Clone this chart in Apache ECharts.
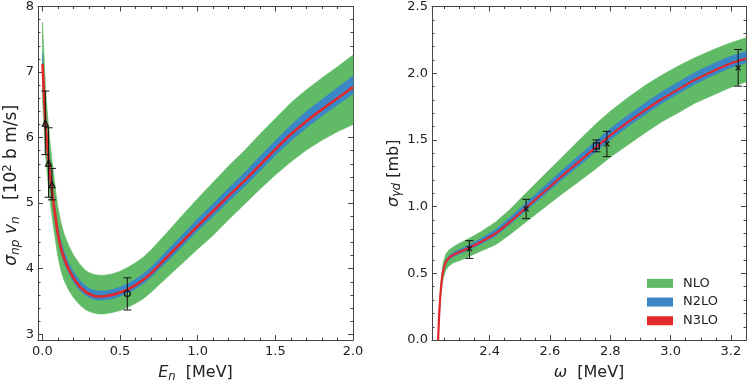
<!DOCTYPE html>
<html lang="en">
<head>
  <meta charset="UTF-8">
  <title>np capture / deuteron photodisintegration</title>
  <script src="https://cdn.jsdelivr.net/npm/echarts@6/dist/echarts.min.js"></script>
  <style>body{margin:0;background:#fff;}</style>
</head>
<body>
<div id="main" style="width:754px;height:388px;"></div>
<script type="text/javascript">
// ---- left panel: sigma_np * v_n vs E_n ----
var enLeft = [0.001,0.005,0.01,0.015,0.02,0.03,0.04,0.05,0.06,0.07,0.08,0.09,0.10,0.12,0.14,0.17,0.20,0.24,0.28,0.32,0.36,0.40,0.45,0.50,0.55,0.60,0.65,0.70,0.75,0.80,0.90,1.00,1.10,1.20,1.30,1.40,1.50,1.60,1.70,1.80,1.90,2.00];
var npN3lo = [7.12,6.93,6.69,6.45,6.21,5.92,5.66,5.43,5.23,5.04,4.86,4.69,4.53,4.31,4.16,3.99,3.86,3.73,3.645,3.595,3.575,3.58,3.60,3.635,3.685,3.75,3.83,3.93,4.05,4.17,4.41,4.65,4.88,5.11,5.34,5.58,5.82,6.05,6.25,6.43,6.60,6.77];
var npNloHi = [7.76,7.55,7.29,7.03,6.77,6.45,6.17,5.92,5.70,5.49,5.30,5.11,4.94,4.70,4.53,4.35,4.21,4.07,3.97,3.92,3.90,3.90,3.92,3.96,4.02,4.09,4.175,4.285,4.415,4.545,4.81,5.07,5.32,5.57,5.80,6.05,6.29,6.53,6.73,6.91,7.08,7.26];
var npNloLo = [6.59,6.41,6.19,5.97,5.74,5.48,5.24,5.02,4.84,4.66,4.50,4.34,4.19,3.97,3.82,3.67,3.56,3.45,3.37,3.33,3.31,3.31,3.33,3.36,3.41,3.47,3.54,3.64,3.75,3.86,4.08,4.30,4.51,4.75,4.98,5.21,5.43,5.63,5.81,5.96,6.09,6.20];
var npN2loHi = [7.28,7.09,6.84,6.60,6.35,6.06,5.79,5.55,5.35,5.16,4.97,4.80,4.63,4.41,4.26,4.08,3.95,3.82,3.73,3.68,3.66,3.66,3.68,3.72,3.77,3.84,3.92,4.02,4.14,4.27,4.51,4.76,4.99,5.23,5.46,5.71,5.95,6.19,6.40,6.58,6.76,6.94];
var npN2loLo = [7.01,6.82,6.58,6.35,6.11,5.83,5.57,5.34,5.15,4.96,4.78,4.61,4.46,4.24,4.09,3.93,3.80,3.67,3.59,3.54,3.52,3.52,3.54,3.58,3.63,3.69,3.77,3.87,3.99,4.10,4.34,4.58,4.80,5.03,5.25,5.49,5.73,5.95,6.15,6.33,6.50,6.67];
// measured points (triangles, circle)
var triX = [0.019,0.040,0.062], triY = [6.22,5.61,5.28], triLo = [5.74,5.09,5.05], triHi = [6.71,6.15,5.53];
var circX = [0.547], circY = [3.62], circLo = [3.37], circHi = [3.86];

// ---- right panel: sigma_gamma_d vs omega ----
var omega = [2.2295,2.231,2.233,2.235,2.238,2.242,2.247,2.255,2.265,2.28,2.30,2.33,2.37,2.42,2.47,2.52,2.58,2.64,2.70,2.75,2.80,2.86,2.92,2.97,3.03,3.08,3.14,3.19,3.25];
var gdN3lo = [0,0.10,0.20,0.28,0.37,0.46,0.53,0.585,0.615,0.64,0.66,0.69,0.735,0.80,0.89,0.99,1.11,1.23,1.345,1.44,1.535,1.635,1.73,1.805,1.885,1.95,2.015,2.065,2.11];
var gdNloHi = [0,0.11,0.22,0.31,0.41,0.51,0.59,0.645,0.675,0.70,0.725,0.76,0.81,0.885,0.985,1.10,1.235,1.37,1.505,1.615,1.715,1.82,1.915,1.985,2.06,2.115,2.175,2.22,2.266];
var gdNloLo = [0,0.09,0.18,0.25,0.33,0.41,0.47,0.525,0.555,0.58,0.595,0.625,0.665,0.715,0.795,0.885,0.99,1.095,1.195,1.28,1.37,1.465,1.56,1.635,1.71,1.775,1.835,1.885,1.935];
var gdN2loHi = [0,0.103,0.205,0.287,0.38,0.473,0.545,0.60,0.632,0.658,0.679,0.711,0.759,0.828,0.922,1.025,1.15,1.273,1.39,1.487,1.585,1.687,1.784,1.86,1.94,2.005,2.07,2.12,2.163];
var gdN2loLo = [0,0.098,0.196,0.275,0.362,0.451,0.52,0.575,0.603,0.627,0.646,0.675,0.718,0.78,0.873,0.97,1.085,1.203,1.315,1.408,1.503,1.603,1.698,1.773,1.853,1.918,1.983,2.034,2.078];
var crossX = [2.333,2.521,2.789,3.224], crossY = [0.685,0.983,1.471,2.04], crossLo = [0.612,0.91,1.375,1.903], crossHi = [0.745,1.055,1.564,2.178];
var sqX = [2.754], sqY = [1.455], sqLo = [1.411], sqHi = [1.50];

var legendNames = ['NLO', 'N2LO', 'N3LO'];
var GREEN = '#60ba66', BLUE = '#3a86c6', RED = '#e3282b';
var FONT = "'DejaVu Sans', sans-serif";
var INK = '#222', FRAME = '#444';

var myChart = echarts.init(document.getElementById('main'), null, {renderer: 'canvas'});

function richFor(size) {
  return {
    i:   {fontStyle: 'italic', fontSize: size, fontFamily: FONT, lineHeight: 20, color: INK},
    sub: {fontStyle: 'italic', fontSize: size * 0.72, fontFamily: FONT, lineHeight: 12, verticalAlign: 'bottom', color: INK},
    sup: {fontSize: size * 0.68, fontFamily: FONT, lineHeight: 12, verticalAlign: 'top', color: INK}
  };
}

// one axis of the boxed frame; labelled axes get tick labels, the others only ticks
function axis(gridIndex, position, min, max, minorSplit, label, extra) {
  var a = {
    gridIndex: gridIndex, type: 'value', position: position, min: min, max: max,
    axisLine: {onZero: false, lineStyle: {color: FRAME, width: 1}},
    axisTick: {inside: true, length: 5, lineStyle: {color: FRAME, width: 1}},
    minorTick: {show: true, splitNumber: minorSplit, length: 2.5, lineStyle: {color: FRAME, width: 1}},
    splitLine: {show: false},
    axisLabel: {show: !!label, fontSize: 13, fontFamily: FONT, color: INK, margin: 4},
    nameTextStyle: {fontSize: 16, fontFamily: FONT, color: INK, lineHeight: 20, rich: richFor(16)}
  };
  if (label) { for (var k in label) a.axisLabel[k] = label[k]; }
  if (extra) { for (var k2 in extra) a[k2] = extra[k2]; }
  return a;
}

function pairs(xs, ys) { return xs.map(function (x, i) { return [x, ys[i]]; }); }

// filled band between lo and hi, drawn as one polygon through the axis scales
function band(name, xs, lo, hi, color, xi) {
  return {
    name: name, type: 'custom', xAxisIndex: xi, yAxisIndex: xi, silent: true,
    itemStyle: {color: color},
    data: xs.map(function (x, i) { return [x, lo[i], hi[i]]; }),
    encode: {x: 0, y: [1, 2]},
    renderItem: function (params, api) {
      if (params.dataIndex !== 0) return null;
      var pts = [], j;
      for (j = 0; j < xs.length; j++) pts.push(api.coord([xs[j], hi[j]]));
      for (j = xs.length - 1; j >= 0; j--) pts.push(api.coord([xs[j], lo[j]]));
      return {type: 'polygon', shape: {points: pts},
        style: {fill: color, stroke: color, lineWidth: 0.6}};
    }
  };
}

function errorBars(xs, lo, hi, xi) {
  return {
    type: 'custom', xAxisIndex: xi, yAxisIndex: xi, silent: true, z: 5,
    data: xs.map(function (x, i) { return [x, lo[i], hi[i]]; }),
    renderItem: function (params, api) {
      var a = api.coord([api.value(0), api.value(1)]);
      var b = api.coord([api.value(0), api.value(2)]);
      var w = 4, st = {stroke: '#111', lineWidth: 1};
      return {type: 'group', children: [
        {type: 'line', shape: {x1: a[0], y1: a[1], x2: b[0], y2: b[1]}, style: st},
        {type: 'line', shape: {x1: a[0] - w, y1: a[1], x2: a[0] + w, y2: a[1]}, style: st},
        {type: 'line', shape: {x1: b[0] - w, y1: b[1], x2: b[0] + w, y2: b[1]}, style: st}
      ]};
    }
  };
}

function markers(xs, ys, symbol, size, xi) {
  return {type: 'scatter', xAxisIndex: xi, yAxisIndex: xi, data: pairs(xs, ys), symbol: symbol,
    symbolSize: size, silent: true, z: 6,
    itemStyle: {color: 'rgba(0,0,0,0)', borderColor: '#111', borderWidth: 1.2, opacity: 1}};
}

var one = function (v) { return v.toFixed(1); };

var series = [
  band('NLO', enLeft, npNloLo, npNloHi, GREEN, 0),
  band('N2LO', enLeft, npN2loLo, npN2loHi, BLUE, 0),
  {name: 'N3LO', type: 'line', xAxisIndex: 0, yAxisIndex: 0, data: pairs(enLeft, npN3lo),
   showSymbol: false, symbol: 'none', smooth: 0.2, itemStyle: {color: RED},
   lineStyle: {color: RED, width: 2.6}, silent: true},
  errorBars(triX, triLo, triHi, 0), errorBars(circX, circLo, circHi, 0),
  markers(triX, triY, 'triangle', 6, 0), markers(circX, circY, 'circle', 6, 0),
  band('NLO', omega, gdNloLo, gdNloHi, GREEN, 2),
  band('N2LO', omega, gdN2loLo, gdN2loHi, BLUE, 2),
  {name: 'N3LO', type: 'line', xAxisIndex: 2, yAxisIndex: 2, data: pairs(omega, gdN3lo),
   showSymbol: false, symbol: 'none', smooth: 0.2, itemStyle: {color: RED},
   lineStyle: {color: RED, width: 2.2}, silent: true},
  errorBars(crossX, crossLo, crossHi, 2), errorBars(sqX, sqLo, sqHi, 2),
  markers(crossX, crossY, 'path://M0,0L10,10M10,0L0,10', 5, 2),
  markers(sqX, sqY, 'rect', 6, 2)
];

var option = {
  animation: false,
  textStyle: {fontFamily: FONT},
  grid: [
    {left: 38, top: 5, width: 315, height: 344},
    {left: 432, top: 5, width: 314, height: 344}
  ],
  xAxis: [
    axis(0, 'bottom', -0.028, 2.0, 5, {showMinLabel: false, formatter: one, margin: 5},
      {splitNumber: 5, name: '{i|E}{sub|n}  [MeV]', nameLocation: 'middle', nameGap: 17}),
    axis(0, 'top', -0.028, 2.0, 5, null, {splitNumber: 5}),
    axis(1, 'bottom', 2.209, 3.25, 4, {showMinLabel: false, showMaxLabel: false, formatter: one, margin: 5},
      {splitNumber: 5, name: '{i|ω}  [MeV]', nameLocation: 'middle', nameGap: 17}),
    axis(1, 'top', 2.209, 3.25, 4, null, {splitNumber: 5})
  ],
  yAxis: [
    axis(0, 'left', 2.91, 8, 5, {showMinLabel: false},
      {splitNumber: 5, name: '{i|σ}{sub|np} {i|v}{sub|n}   [10{sup|2} b m/s]', nameLocation: 'middle', nameGap: 11,
       nameTextStyle: {fontSize: 17, fontFamily: FONT, color: INK, lineHeight: 20, rich: richFor(17), padding: [0, 24, 0, 0]}}),
    axis(0, 'right', 2.91, 8, 5, null, {splitNumber: 5}),
    axis(1, 'left', 0, 2.5, 5, {formatter: one},
      {interval: 0.5, name: '{i|σ}{sub|γd} [mb]', nameLocation: 'middle', nameGap: 26}),
    axis(1, 'right', 0, 2.5, 5, null, {interval: 0.5})
  ],
  legend: {
    orient: 'vertical', left: 647, top: 274, padding: 0, itemGap: 0,
    itemWidth: 26, itemHeight: 9, selectedMode: false,
    textStyle: {fontSize: 13, fontFamily: FONT, color: INK, lineHeight: 18.7, padding: [0, 0, 0, 5]},
    data: [
      {name: legendNames[0], icon: 'rect', itemStyle: {color: GREEN}},
      {name: legendNames[1], icon: 'rect', itemStyle: {color: BLUE}},
      {name: legendNames[2], icon: 'rect', itemStyle: {color: RED}}
    ]
  },
  series: series
};

myChart.setOption(option);
</script>
</body>
</html>
